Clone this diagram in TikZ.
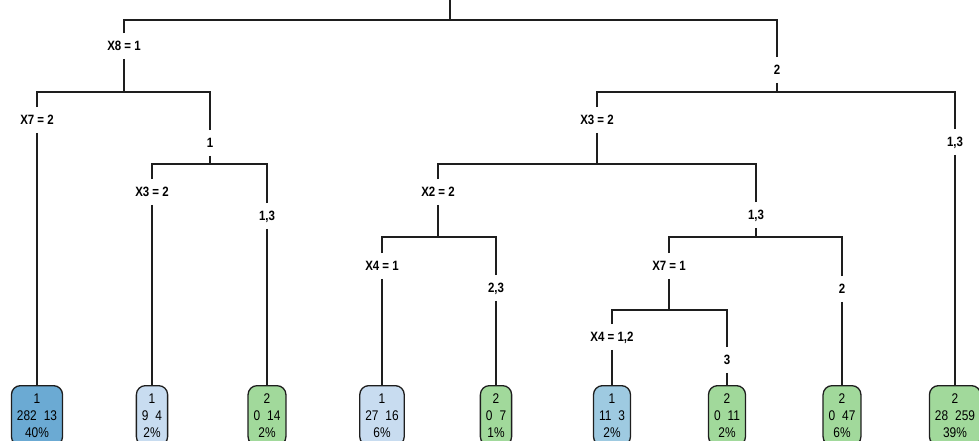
\documentclass[tikz,border=0pt]{standalone}
\usepackage{fontspec}
\setmainfont{Liberation Sans}
\newfontfamily\lblfont[FakeStretch=0.85]{Liberation Sans}
\newfontfamily\leaffont[FakeStretch=0.85]{Liberation Sans}
\definecolor{leafdark}{RGB}{107,170,211}
\definecolor{leaflight}{RGB}{200,220,240}
\definecolor{leafmid}{RGB}{158,202,225}
\definecolor{leafgreen}{RGB}{161,217,155}
\definecolor{edgecol}{RGB}{30,30,30}
\tikzset{
  lbl/.style={font=\lblfont\bfseries\fontsize{13.5}{14}\selectfont, text height=9.5pt, text depth=0pt, inner ysep=8pt, inner xsep=1pt},
  leaf/.style={draw=edgecol, line width=1.3pt, rounded corners=9pt, anchor=north, align=center,
    font=\leaffont\fontsize{14}{17}\selectfont, minimum height=60pt, inner xsep=5.5pt, inner ysep=4pt},
  br/.style={draw=edgecol, line width=1.7pt}
}
\begin{document}
\begin{tikzpicture}[x=1pt,y=-1pt]
\useasboundingbox (0,0) rectangle (979,441);
% coordinates of split bars
\coordinate (top) at (450,0);
\coordinate (b0) at (450,20);
\coordinate (b1) at (124,92);
\coordinate (b2) at (777,92);
\coordinate (b3) at (210,164);
\coordinate (b4) at (597,164);
\coordinate (b5) at (438,237);
\coordinate (b6) at (756,237);
\coordinate (b7) at (669,310);
% labels
\node[lbl] (x8) at (124,46) {X8 = 1};
\node[lbl] (r2) at (777,70) {2};
\node[lbl] (x7a) at (37,120) {X7 = 2};
\node[lbl] (l1) at (210,143) {1};
\node[lbl] (x3a) at (597,120) {X3 = 2};
\node[lbl] (r13a) at (955,142) {1,3};
\node[lbl] (x3b) at (152,192) {X3 = 2};
\node[lbl] (r13b) at (267,216) {1,3};
\node[lbl] (x2) at (438,192) {X2 = 2};
\node[lbl] (r13c) at (756,215) {1,3};
\node[lbl] (x4a) at (382,266) {X4 = 1};
\node[lbl] (r23) at (496,288) {2,3};
\node[lbl] (x7b) at (669,266) {X7 = 1};
\node[lbl] (r2b) at (842,289) {2};
\node[lbl] (x4b) at (612,337) {X4 = 1,2};
\node[lbl] (r3) at (727,360) {3};
% leaves
\node[leaf, fill=leafdark] (L1) at (37,385) {1\\282\,\,\,13\\40\%};
\node[leaf, fill=leaflight] (L2) at (152,385) {1\\9\,\,\,4\\2\%};
\node[leaf, fill=leafgreen] (L3) at (267,385) {2\\0\,\,\,14\\2\%};
\node[leaf, fill=leaflight] (L4) at (382,385) {1\\27\,\,\,16\\6\%};
\node[leaf, fill=leafgreen] (L5) at (496,385) {2\\0\,\,\,7\\1\%};
\node[leaf, fill=leafmid] (L6) at (612,385) {1\\11\,\,\,3\\2\%};
\node[leaf, fill=leafgreen] (L7) at (727,385) {2\\0\,\,\,11\\2\%};
\node[leaf, fill=leafgreen] (L8) at (842,385) {2\\0\,\,\,47\\6\%};
\node[leaf, fill=leafgreen] (L9) at (955,385) {2\\28\,\,\,259\\39\%};
% branches
\draw[br] (top) -- (b0);
\draw[br] (x8) |- (b0);
\draw[br] (r2) |- (b0);
\draw[br] (x8) -- (b1);
\draw[br] (x7a) |- (b1);
\draw[br] (l1) |- (b1);
\draw[br] (r2) -- (b2);
\draw[br] (x3a) |- (b2);
\draw[br] (r13a) |- (b2);
\draw[br] (l1) -- (b3);
\draw[br] (x3b) |- (b3);
\draw[br] (r13b) |- (b3);
\draw[br] (x3a) -- (b4);
\draw[br] (x2) |- (b4);
\draw[br] (r13c) |- (b4);
\draw[br] (x2) -- (b5);
\draw[br] (x4a) |- (b5);
\draw[br] (r23) |- (b5);
\draw[br] (r13c) -- (b6);
\draw[br] (x7b) |- (b6);
\draw[br] (r2b) |- (b6);
\draw[br] (x7b) -- (b7);
\draw[br] (x4b) |- (b7);
\draw[br] (r3) |- (b7);
% to leaves
\draw[br] (x7a) -- (L1);
\draw[br] (x3b) -- (L2);
\draw[br] (r13b) -- (L3);
\draw[br] (x4a) -- (L4);
\draw[br] (r23) -- (L5);
\draw[br] (x4b) -- (L6);
\draw[br] (r3) -- (L7);
\draw[br] (r2b) -- (L8);
\draw[br] (r13a) -- (L9);
\end{tikzpicture}
\end{document}
